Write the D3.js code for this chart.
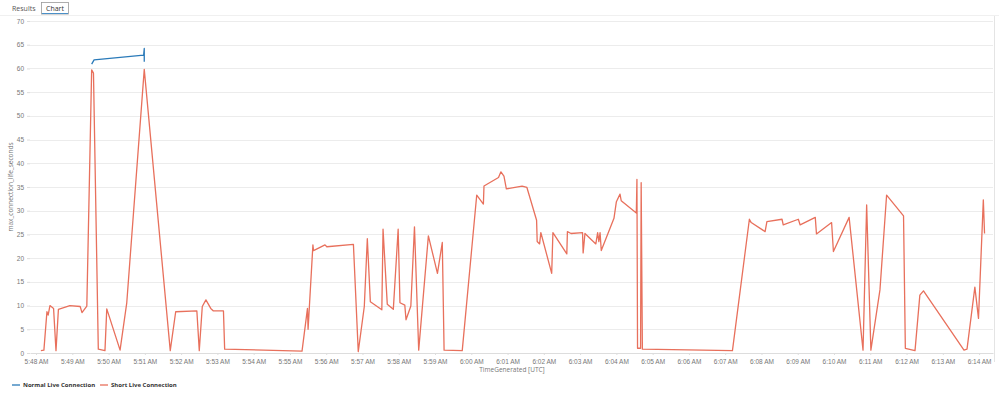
<!DOCTYPE html>
<html lang="en">
<head>
<meta charset="utf-8">
<style type="text/css">
body {
	margin: 0;
	background: #fff;
	font-family: "Open Sans", "Noto Sans", sans-serif;
}

.grid line {
	stroke: #ececec;
	stroke-width: 1px;
}

.axis text {
	fill: #777;
	font-size: 6.5px;
}

.axis path, .axis line {
	stroke: #ddd;
}

.series {
	fill: none;
	stroke-width: 1.3px;
	stroke-linejoin: round;
}
</style>
</head>
<body>
	<svg width="999" height="396"></svg>

	<script src="https://cdnjs.cloudflare.com/ajax/libs/d3/7.8.5/d3.min.js"></script>

	<script type="text/javascript">
    // Short Live Connection (time, max_connection_life_seconds)
    var shortTimes = ["05:48:08","05:48:13","05:48:18","05:48:20","05:48:23","05:48:29","05:48:33","05:48:37","05:48:56","05:49:13",
        "05:49:16","05:49:24","05:49:32","05:49:35","05:49:43","05:49:54","05:49:57","05:50:19","05:50:30","05:50:59",
        "05:51:42","05:51:51","05:52:26","05:52:30","05:52:35","05:52:41","05:52:49","05:52:53","05:53:10","05:53:12",
        "05:55:20","05:55:29","05:55:30","05:55:38","05:55:39","05:55:58","05:56:01","05:56:45","05:56:53","05:57:03",
        "05:57:08","05:57:13","05:57:32","05:57:34","05:57:41","05:57:51","05:57:59","05:58:02","05:58:10","05:58:12",
        "05:58:20","05:58:26","05:58:33","05:58:49","05:59:04","05:59:12","05:59:15","05:59:45","06:00:09","06:00:20",
        "06:00:21","06:00:45","06:00:49","06:00:54","06:00:58","06:01:24","06:01:32","06:01:48","06:01:49","06:01:53",
        "06:01:55","06:02:13","06:02:15","06:02:38","06:02:39","06:02:45","06:03:04","06:03:05","06:03:08","06:03:26",
        "06:03:29","06:03:31","06:03:33","06:03:35","06:03:56","06:04:00","06:04:06","06:04:08","06:04:33","06:04:34",
        "06:04:35","06:04:40","06:04:41","06:04:43","06:07:12","06:07:40","06:07:43","06:08:06","06:08:09","06:08:34",
        "06:08:36","06:09:01","06:09:04","06:09:29","06:09:31","06:09:56","06:09:59","06:10:25","06:10:48","06:10:54",
        "06:11:01","06:11:16","06:11:27","06:11:55","06:11:58","06:12:14","06:12:22","06:12:28","06:13:35","06:13:40",
        "06:13:53","06:13:59","06:14:07","06:14:09"];
    var shortValues = [0.5,0.6,8.7,8.0,10.0,9.4,0.5,9.2,10.0,9.8,
        8.5,9.9,59.7,59.0,0.8,0.5,9.3,0.6,10.5,59.8,
        0.5,8.7,8.9,0.5,9.8,11.2,9.4,8.9,8.9,0.8,
        0.4,9.4,5.0,22.8,21.6,22.8,22.4,22.9,0.3,9.8,
        24.1,10.8,9.1,26.1,10.3,9.2,26.1,10.6,10.1,7.0,
        9.9,26.6,0.6,24.7,16.8,23.3,0.6,0.5,33.3,31.4,
        35.2,37.0,38.2,37.3,34.6,35.2,34.9,28.0,23.5,23.0,
        25.4,16.8,25.4,20.9,25.6,25.2,25.4,21.1,25.2,23.0,
        25.4,23.5,25.4,21.6,28.4,31.9,33.5,32.1,29.5,36.6,
        1.0,1.0,35.9,0.8,0.5,28.2,27.5,25.6,27.7,28.2,
        27.0,28.2,27.0,28.6,25.1,27.5,21.4,28.6,0.6,31.2,
        0.6,13.3,33.3,28.9,1.0,0.5,12.2,13.1,0.6,0.8,
        13.9,7.3,32.3,25.2];

    // Normal Live Connection
    var normalTimes = ["05:49:32","05:49:36","05:50:58","05:50:59","05:50:59"];
    var normalValues = [60.9,61.8,62.8,64.2,61.4];

    var seriesNames = ["Normal Live Connection", "Short Live Connection"];
    var seriesColors = ["#2a7ab9", "#e8705c"];
    var yTicks = [0,5,10,15,20,25,30,35,40,45,50,55,60,65,70];

    var parseTime = d3.timeParse("%H:%M:%S");

    var svg = d3.select("svg"),
        plotLeft = 30,
        plotRight = 993,
        plotTop = 21,
        plotBottom = 353;

    var x = d3.scaleTime()
        .domain([parseTime("05:47:50"), parseTime("06:14:23")])
        .range([plotLeft, plotRight]);

    var y = d3.scaleLinear()
        .domain([0, 70])
        .range([plotBottom, plotTop]);

    // tab header
    svg.append("text")
        .attr("x", 12).attr("y", 10.5)
        .style("font-size", "7px").style("fill", "#555")
        .text("Results");
    svg.append("rect")
        .attr("x", 41.5).attr("y", 2.5).attr("width", 27).attr("height", 11.5)
        .attr("fill", "#fff").attr("stroke", "#999").attr("stroke-width", 0.8);
    svg.append("line")
        .attr("x1", 42).attr("x2", 68).attr("y1", 13.5).attr("y2", 13.5)
        .attr("stroke", "#4a90c8").attr("stroke-width", 1);
    svg.append("text")
        .attr("x", 55).attr("y", 10.5).attr("text-anchor", "middle")
        .style("font-size", "7px").style("fill", "#333")
        .text("Chart");
    svg.append("line")
        .attr("x1", 0).attr("x2", 999).attr("y1", 15.5).attr("y2", 15.5)
        .attr("stroke", "#f0f0f0");

    // right panel edge
    svg.append("line")
        .attr("x1", 994.5).attr("x2", 994.5).attr("y1", 16).attr("y2", 362)
        .attr("stroke", "#e4e4e4");

    // gridlines
    svg.append("g")
        .attr("class", "grid")
        .selectAll("line")
        .data(yTicks.slice(1))
        .enter()
        .append("line")
        .attr("x1", plotLeft).attr("x2", plotRight)
        .attr("y1", function (d) {return Math.round(y(d)) + 0.5;})
        .attr("y2", function (d) {return Math.round(y(d)) + 0.5;});

    var yAxis = svg.append("g")
        .attr("class", "axis")
        .attr("transform", "translate(" + plotLeft + ",0)")
        .call(d3.axisLeft(y).tickValues(yTicks).tickSize(3).tickPadding(3));
    yAxis.select(".domain").remove();

    svg.append("g")
        .attr("class", "axis")
        .attr("transform", "translate(0," + plotBottom + ")")
        .call(d3.axisBottom(x)
            .ticks(d3.timeMinute.every(1))
            .tickFormat(d3.timeFormat("%-I:%M %p"))
            .tickSize(2)
            .tickPadding(4)
            .tickSizeOuter(0));

    svg.append("text")
        .attr("transform", "translate(13," + ((plotTop + plotBottom) / 2) + ") rotate(-90)")
        .attr("text-anchor", "middle")
        .style("font-size", "6.5px").style("fill", "#777")
        .text("max_connection_life_seconds");

    svg.append("text")
        .attr("x", 512).attr("y", 372)
        .attr("text-anchor", "middle")
        .style("font-size", "6.5px").style("fill", "#777")
        .text("TimeGenerated [UTC]");

    var line = d3.line()
        .x(function (d) {return x(d.t);})
        .y(function (d) {return y(d.v);});

    var shortData = shortTimes.map(function (t, i) {return {t: parseTime(t), v: shortValues[i]};});
    var normalData = normalTimes.map(function (t, i) {return {t: parseTime(t), v: normalValues[i]};});

    svg.append("path")
        .datum(shortData)
        .attr("class", "series")
        .attr("stroke", seriesColors[1])
        .attr("d", line);

    svg.append("path")
        .datum(normalData)
        .attr("class", "series")
        .attr("stroke", seriesColors[0])
        .attr("d", line);

    // legend
    var legendX = [12, 100];
    var legend = svg.selectAll(".legend")
        .data(seriesNames)
        .enter()
        .append("g")
        .attr("class", "legend")
        .attr("transform", function (d, i) {return "translate(" + legendX[i] + ",385)";});

    legend.append("line")
        .attr("x1", 0).attr("x2", 8)
        .attr("stroke", function (d, i) {return seriesColors[i];})
        .attr("stroke-width", 1.3);

    legend.append("text")
        .attr("x", 11).attr("dy", "0.35em")
        .style("font-size", "6px").style("font-weight", "bold").style("fill", "#333")
        .text(function (d) {return d;});
</script>

</body>
</html>
